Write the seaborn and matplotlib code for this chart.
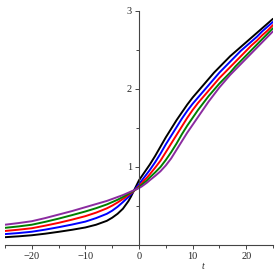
import matplotlib
matplotlib.use("Agg")
import matplotlib.pyplot as plt
from matplotlib.ticker import MultipleLocator
import pandas as pd
import seaborn as sns

# values
t = [-25, -22.5, -20, -17.5, -15, -12.5, -10, -8, -6, -5, -4, -3, -2, -1.5, -1, -0.5,
     0, 0.5, 1, 1.5, 2, 3, 4, 5, 6, 7, 8, 9, 10, 11, 12, 13, 14, 15, 16, 17, 18, 19,
     20, 21, 22, 23, 24, 25]

black = [0.100, 0.111, 0.125, 0.145, 0.169, 0.195, 0.225, 0.260, 0.310, 0.350, 0.400,
         0.465, 0.560, 0.620, 0.690, 0.760, 0.830, 0.880, 0.930, 0.980, 1.030, 1.140,
         1.260, 1.380, 1.490, 1.600, 1.700, 1.800, 1.890, 1.970, 2.050, 2.130, 2.210,
         2.280, 2.350, 2.420, 2.480, 2.540, 2.600, 2.660, 2.720, 2.780, 2.840, 2.900]
blue = [0.140, 0.153, 0.170, 0.197, 0.228, 0.262, 0.300, 0.345, 0.400, 0.440, 0.490,
        0.550, 0.615, 0.650, 0.690, 0.735, 0.780, 0.825, 0.870, 0.915, 0.960, 1.060,
        1.170, 1.290, 1.400, 1.510, 1.620, 1.720, 1.810, 1.890, 1.970, 2.050, 2.130,
        2.210, 2.280, 2.350, 2.420, 2.490, 2.550, 2.610, 2.670, 2.740, 2.800, 2.860]
red = [0.180, 0.196, 0.215, 0.248, 0.284, 0.325, 0.370, 0.415, 0.470, 0.505, 0.545,
       0.590, 0.640, 0.665, 0.690, 0.720, 0.755, 0.790, 0.830, 0.865, 0.905, 0.990,
       1.080, 1.190, 1.300, 1.410, 1.520, 1.630, 1.730, 1.820, 1.900, 1.980, 2.060,
       2.140, 2.210, 2.280, 2.350, 2.420, 2.490, 2.560, 2.620, 2.690, 2.750, 2.820]
green = [0.220, 0.238, 0.260, 0.297, 0.338, 0.383, 0.430, 0.472, 0.520, 0.550, 0.580,
         0.615, 0.655, 0.675, 0.695, 0.715, 0.740, 0.770, 0.800, 0.830, 0.865, 0.930,
         1.000, 1.090, 1.190, 1.300, 1.420, 1.530, 1.630, 1.730, 1.820, 1.910, 1.990,
         2.070, 2.140, 2.210, 2.290, 2.360, 2.430, 2.500, 2.570, 2.640, 2.710, 2.780]
purple = [0.260, 0.281, 0.305, 0.345, 0.390, 0.435, 0.485, 0.525, 0.565, 0.590, 0.615,
          0.640, 0.670, 0.685, 0.700, 0.715, 0.730, 0.750, 0.775, 0.800, 0.830, 0.885,
          0.945, 1.020, 1.110, 1.220, 1.330, 1.440, 1.540, 1.640, 1.740, 1.840, 1.930,
          2.020, 2.100, 2.180, 2.250, 2.320, 2.390, 2.460, 2.530, 2.600, 2.670, 2.740]

series = {"black": black, "blue": blue, "red": red, "green": green, "purple": purple}
colors = {"black": "#000000", "blue": "#0000ff", "red": "#ff0000",
          "green": "#008000", "purple": "#8b2ba0"}

rows = []
for name, vals in series.items():
    for tt, v in zip(t, vals):
        rows.append({"t": tt, "y": v, "curve": name})
df = pd.DataFrame(rows)

sns.set_style("white")
plt.rcParams["font.family"] = ["Liberation Serif", "DejaVu Serif"]

fig = plt.figure(figsize=(2.77, 2.77), dpi=100)
ax = fig.add_axes([5 / 277, 32 / 277, 268 / 277, 234 / 277])

sns.lineplot(data=df, x="t", y="y", hue="curve", palette=colors,
             estimator=None, sort=False, linewidth=1.4, legend=False, ax=ax)

ax.set_xlim(-25, 25)
ax.set_ylim(0, 3)

# Maple style axes crossing at origin
ax.spines["left"].set_position(("data", 0))
ax.spines["bottom"].set_position(("data", 0))
ax.spines["right"].set_visible(False)
ax.spines["top"].set_visible(False)
for s in ("left", "bottom"):
    ax.spines[s].set_color("#444444")
    ax.spines[s].set_linewidth(0.8)

ax.xaxis.set_major_locator(MultipleLocator(10))
ax.xaxis.set_minor_locator(MultipleLocator(5))
ax.set_yticks([1, 2, 3])
ax.set_yticks([0.5, 1.5, 2.5], minor=True)
ax.tick_params(axis="both", which="both", direction="out", color="#444444",
               bottom=True, left=True, labelsize=7.5, width=0.7, pad=2)
ax.tick_params(which="major", length=3)
ax.tick_params(which="minor", length=2)
ax.set_xticklabels([f"{int(v)}".replace("-", "\u2212") for v in ax.get_xticks()])

ax.set_xlabel("")
ax.set_ylabel("")
ax.text(12, -0.28, "t", style="italic", fontsize=7, ha="center", va="center")

fig.savefig("out.png", dpi=100)
plt.close()
